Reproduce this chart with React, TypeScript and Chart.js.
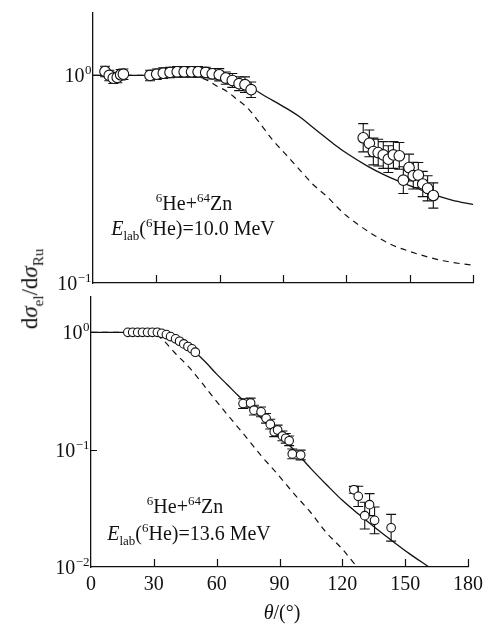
import React, { useEffect, useRef } from 'react';
import { Chart, registerables } from 'chart.js';
Chart.register(...registerables);

const FONT = '"Liberation Serif", "Times New Roman", serif';
const INK = '#111';

// ---------- Top panel (E = 10.0 MeV) ----------
const topExpTheta = [5.7, 7.7, 9.6, 11.5, 13.1, 14.4, 27, 30.2, 33.3, 36.5, 39.9, 43.2, 46.7, 49.8, 53.4, 56.5, 59.8, 62.9, 66, 69.2, 72, 74.9, 128.0, 130.9, 132.8, 135.1, 137.5, 139.9, 142.3, 145.1, 147.0, 149.7, 151.7, 154.1, 156.2, 158.5, 161.2];
const topExpVal = [1.045, 1.0, 0.97, 0.978, 1.008, 1.014, 1.0, 1.014, 1.026, 1.034, 1.041, 1.041, 1.041, 1.041, 1.034, 1.019, 1.008, 0.971, 0.946, 0.913, 0.903, 0.854, 0.501, 0.471, 0.43, 0.425, 0.414, 0.395, 0.414, 0.41, 0.313, 0.36, 0.329, 0.331, 0.3, 0.286, 0.264];
const topExpErr = [0.06, 0.06, 0.06, 0.06, 0.06, 0.06, 0.06, 0.06, 0.06, 0.06, 0.06, 0.06, 0.06, 0.06, 0.06, 0.06, 0.07, 0.07, 0.08, 0.08, 0.09, 0.09, 0.17, 0.16, 0.16, 0.16, 0.16, 0.16, 0.16, 0.16, 0.16, 0.16, 0.16, 0.15, 0.15, 0.15, 0.15];
const topSolidTheta = [0, 30, 50, 58, 66, 74, 82, 90, 98, 106, 114, 122, 130, 137.5, 145, 153, 161, 170, 180];
const topSolidVal = [1, 1, 1, 0.989, 0.955, 0.885, 0.79, 0.71, 0.631, 0.543, 0.468, 0.41, 0.366, 0.334, 0.309, 0.287, 0.267, 0.251, 0.239];
const topDashTheta = [0, 40, 48, 54, 58.6, 63.3, 68, 73, 79, 85, 91, 98, 104, 111, 118, 126, 134, 142, 150, 158, 166, 174, 180];
const topDashVal = [1, 1, 0.99, 0.95, 0.89, 0.84, 0.77, 0.7, 0.59, 0.49, 0.42, 0.35, 0.3, 0.26, 0.22, 0.19, 0.168, 0.152, 0.142, 0.134, 0.128, 0.124, 0.122];
const topYTicks = [0.1, 1];

// ---------- Bottom panel (E = 13.6 MeV) ----------
const botExpTheta = [17.6, 19.9, 22.3, 24.6, 27.0, 29.3, 31.7, 33.8, 36.0, 38.0, 40.4, 42.3, 44.3, 46.3, 48.2, 49.8, 72.6, 76.2, 77.8, 81.2, 83.6, 85.6, 87.5, 89.1, 91.4, 93.0, 94.6, 96.1, 100.1, 125.5, 127.6, 133.0, 130.7, 135.4, 143.3];
const botExpVal = [1, 1, 1, 1, 1, 1, 1, 0.98, 0.956, 0.92, 0.88, 0.839, 0.797, 0.757, 0.723, 0.677, 0.247, 0.25, 0.217, 0.21, 0.185, 0.165, 0.142, 0.147, 0.131, 0.125, 0.119, 0.092, 0.09, 0.0455, 0.04, 0.034, 0.0274, 0.025, 0.0216];
const botExpErr = [0, 0, 0, 0, 0, 0, 0, 0, 0, 0, 0, 0, 0, 0, 0, 0, 0.1, 0.1, 0.1, 0.1, 0.1, 0.1, 0.1, 0.1, 0.1, 0.1, 0.1, 0.1, 0.1, 0.07, 0.22, 0.24, 0.3, 0.3, 0.3];
const botSolidTheta = [0, 30, 35, 40, 45, 50, 55, 60, 65, 70, 75, 80, 85, 90, 97, 105, 112.6, 120, 128, 136, 144, 152, 161.3];
const botSolidVal = [1, 1, 0.97, 0.885, 0.785, 0.67, 0.55, 0.44, 0.359, 0.292, 0.24, 0.196, 0.16, 0.131, 0.099, 0.069, 0.05, 0.037, 0.028, 0.0214, 0.0166, 0.013, 0.01];
const botDashTheta = [0, 25, 28, 32, 35, 40, 47, 53, 57, 65, 73, 81, 89, 97, 105, 112, 120, 127];
const botDashVal = [1, 1, 0.995, 0.93, 0.84, 0.67, 0.5, 0.37, 0.3, 0.2, 0.135, 0.09, 0.062, 0.042, 0.029, 0.02, 0.0142, 0.01];
const botYTicks = [0.01, 0.1, 1];

const xTicks = [0, 30, 60, 90, 120, 150, 180];
// exponent shown for each y tick (label = 10^exponent)
const yExponents: Record<string, string> = { '1': '0', '0.1': '\u22121', '0.01': '\u22122' };

type Part = { t: string; size?: number; dy?: number; italic?: boolean };
type RichItem = { parts: Part[]; cx: number; y: number };

const zip = (a: number[], b: number[]) => a.map((x, i) => ({ x, y: b[i] }));
const fontOf = (p: Part) => `${p.italic ? 'italic ' : ''}${p.size ?? 20}px ${FONT}`;

const errorBarPlugin = {
  id: 'errorBars',
  beforeDatasetsDraw(chart: any) {
    const { ctx } = chart;
    const x = chart.scales.x;
    const y = chart.scales.y;
    chart.data.datasets.forEach((ds: any) => {
      if (!ds.errs) return;
      ctx.save();
      ctx.strokeStyle = INK;
      ctx.lineWidth = 1.1;
      ds.data.forEach((p: any, i: number) => {
        const e = ds.errs[i];
        if (!e) return;
        const px = x.getPixelForValue(p.x);
        const yt = y.getPixelForValue(p.y * (1 + e));
        const yb = y.getPixelForValue(p.y / (1 + e));
        const cap = 5;
        ctx.beginPath();
        ctx.moveTo(px, yt); ctx.lineTo(px, yb);
        ctx.moveTo(px - cap, yt); ctx.lineTo(px + cap, yt);
        ctx.moveTo(px - cap, yb); ctx.lineTo(px + cap, yb);
        ctx.stroke();
      });
      ctx.restore();
    });
  },
};

const innerTicksPlugin = {
  id: 'innerTicks',
  afterDatasetsDraw(chart: any) {
    const { ctx, chartArea } = chart;
    const x = chart.scales.x;
    const y = chart.scales.y;
    ctx.save();
    ctx.strokeStyle = INK;
    ctx.lineWidth = 1.2;
    ctx.beginPath();
    x.ticks.forEach((t: any) => {
      if (t.value === x.min) return;
      const px = Math.round(x.getPixelForValue(t.value)) + 0.5;
      ctx.moveTo(px, chartArea.bottom);
      ctx.lineTo(px, chartArea.bottom - 8);
    });
    y.ticks.forEach((t: any) => {
      if (t.value === y.min) return;
      const py = Math.round(y.getPixelForValue(t.value)) + 0.5;
      ctx.moveTo(chartArea.left, py);
      ctx.lineTo(chartArea.left + 6, py);
    });
    ctx.stroke();
    ctx.restore();
  },
};

// y tick labels "10" with a raised exponent, placed through the y scale
const powerLabelsPlugin = {
  id: 'powerLabels',
  afterDraw(chart: any) {
    const { ctx, chartArea } = chart;
    const y = chart.scales.y;
    ctx.save();
    ctx.fillStyle = INK;
    ctx.textBaseline = 'alphabetic';
    ctx.textAlign = 'left';
    y.ticks.forEach((t: any) => {
      const exp = yExponents[String(t.value)];
      if (exp === undefined) return;
      const py = y.getPixelForValue(t.value);
      const base: Part = { t: '10', size: 20 };
      const sup: Part = { t: exp, size: 13 };
      ctx.font = fontOf(base);
      const wb = ctx.measureText(base.t).width;
      ctx.font = fontOf(sup);
      const ws = ctx.measureText(sup.t).width;
      const right = chartArea.left - 2;
      const x0 = right - wb - ws;
      ctx.font = fontOf(base);
      ctx.fillText(base.t, x0, py + 7);
      ctx.font = fontOf(sup);
      ctx.fillText(sup.t, x0 + wb + 0.5, py - 1);
    });
    ctx.restore();
  },
};

const richTextPlugin = {
  id: 'richText',
  afterDraw(chart: any, _args: any, opts: any) {
    const items: RichItem[] = (opts && opts.items) || [];
    const { ctx } = chart;
    ctx.save();
    ctx.fillStyle = INK;
    ctx.textAlign = 'left';
    ctx.textBaseline = 'alphabetic';
    items.forEach((it) => {
      const widths = it.parts.map((p) => { ctx.font = fontOf(p); return ctx.measureText(p.t).width; });
      const total = widths.reduce((s, w) => s + w, 0);
      let xx = it.cx - total / 2;
      it.parts.forEach((p, i) => {
        ctx.font = fontOf(p);
        ctx.fillText(p.t, xx, it.y + (p.dy ?? 0));
        xx += widths[i];
      });
    });
    ctx.restore();
  },
};

const reactionParts: Part[] = [
  { t: '6', size: 13, dy: -8 }, { t: 'He+' }, { t: '64', size: 13, dy: -8 }, { t: 'Zn' },
];
const energyParts = (e: string): Part[] => [
  { t: 'E', italic: true }, { t: 'lab', size: 13, dy: 5 }, { t: '(' }, { t: '6', size: 13, dy: -8 }, { t: `He)=${e} MeV` },
];

function makeConfig(p: {
  expT: number[]; expV: number[]; expE: number[]; solT: number[]; solV: number[]; dashT: number[]; dashV: number[];
  yMin: number; yTicks: number[]; radius: number; showX: boolean; axisH: number; axisW: number; padTop: number; texts: RichItem[];
}) {
  return {
    type: 'scatter' as const,
    data: {
      datasets: [
        {
          type: 'scatter', data: zip(p.expT, p.expV), errs: p.expE, order: 0,
          pointRadius: p.radius, pointHoverRadius: p.radius, pointBackgroundColor: '#fff',
          pointBorderColor: INK, pointBorderWidth: 1.1,
        },
        {
          type: 'line', data: zip(p.solT, p.solV), order: 1, borderColor: INK, borderWidth: 1.3,
          pointRadius: 0, cubicInterpolationMode: 'monotone', fill: false,
        },
        {
          type: 'line', data: zip(p.dashT, p.dashV), order: 1, borderColor: INK, borderWidth: 1.2,
          borderDash: [6, 5], pointRadius: 0, cubicInterpolationMode: 'monotone', fill: false,
        },
      ],
    } as any,
    options: {
      animation: false as const,
      responsive: false,
      devicePixelRatio: 1,
      events: [],
      layout: { padding: { top: p.padTop, right: 16, left: 0, bottom: 0 } },
      plugins: {
        legend: { display: false },
        tooltip: { enabled: false },
        richText: { items: p.texts },
      } as any,
      scales: {
        x: {
          type: 'linear' as const, min: 0, max: 180,
          afterBuildTicks: (s: any) => { s.ticks = xTicks.map((v) => ({ value: v })); },
          afterFit: (s: any) => { s.height = p.axisH; },
          grid: { drawOnChartArea: false, drawTicks: false },
          border: { display: true, color: INK, width: 1.3 },
          ticks: { display: p.showX, padding: 6, color: INK, font: { family: FONT, size: 20 }, maxRotation: 0 },
        },
        y: {
          type: 'logarithmic' as const, min: p.yMin, max: 2,
          afterBuildTicks: (s: any) => { s.ticks = p.yTicks.map((v) => ({ value: v })); },
          afterFit: (s: any) => { s.width = p.axisW; },
          grid: { drawOnChartArea: false, drawTicks: false },
          border: { display: true, color: INK, width: 1.3 },
          ticks: { display: false },
        },
      },
    },
    plugins: [errorBarPlugin, innerTicksPlugin, powerLabelsPlugin, richTextPlugin],
  };
}

export default function App() {
  const topRef = useRef<HTMLCanvasElement>(null);
  const botRef = useRef<HTMLCanvasElement>(null);

  useEffect(() => {
    const c1 = new Chart(topRef.current as HTMLCanvasElement, makeConfig({
      expT: topExpTheta, expV: topExpVal, expE: topExpErr,
      solT: topSolidTheta, solV: topSolidVal, dashT: topDashTheta, dashV: topDashVal,
      yMin: 0.1, yTicks: topYTicks, radius: 5.3, showX: false, axisH: 17, axisW: 93, padTop: 13,
      texts: [
        { parts: reactionParts, cx: 194, y: 210 },
        { parts: energyParts('10.0'), cx: 193, y: 235 },
      ],
    }) as any);
    const c2 = new Chart(botRef.current as HTMLCanvasElement, makeConfig({
      expT: botExpTheta, expV: botExpVal, expE: botExpErr,
      solT: botSolidTheta, solV: botSolidVal, dashT: botDashTheta, dashV: botDashVal,
      yMin: 0.01, yTicks: botYTicks, radius: 4.3, showX: true, axisH: 57, axisW: 91, padTop: 13,
      texts: [
        { parts: reactionParts, cx: 185, y: 229 },
        { parts: energyParts('13.6'), cx: 189, y: 256 },
        { parts: [{ t: '\u03B8', italic: true }, { t: '/(\u00B0)' }], cx: 282, y: 335 },
      ],
    }) as any);
    return () => { c1.destroy(); c2.destroy(); };
  }, []);

  return (
    <div style={{ position: 'absolute', left: 0, top: 0, width: 489, height: 624, background: '#fff', fontFamily: FONT, color: INK }}>
      <canvas ref={topRef} width={489} height={300} style={{ position: 'absolute', left: 0, top: 0, width: 489, height: 300 }} />
      <canvas ref={botRef} width={489} height={340} style={{ position: 'absolute', left: 0, top: 284, width: 489, height: 340 }} />
      <div style={{
        position: 'absolute', left: 32, top: 289, transform: 'translate(-50%, -50%) rotate(-90deg)',
        whiteSpace: 'nowrap', fontSize: 23, lineHeight: 1,
      }}>
        d<i>σ</i><sub style={{ fontSize: 15 }}>el</sub>/d<i>σ</i><sub style={{ fontSize: 15 }}>Ru</sub>
      </div>
    </div>
  );
}
